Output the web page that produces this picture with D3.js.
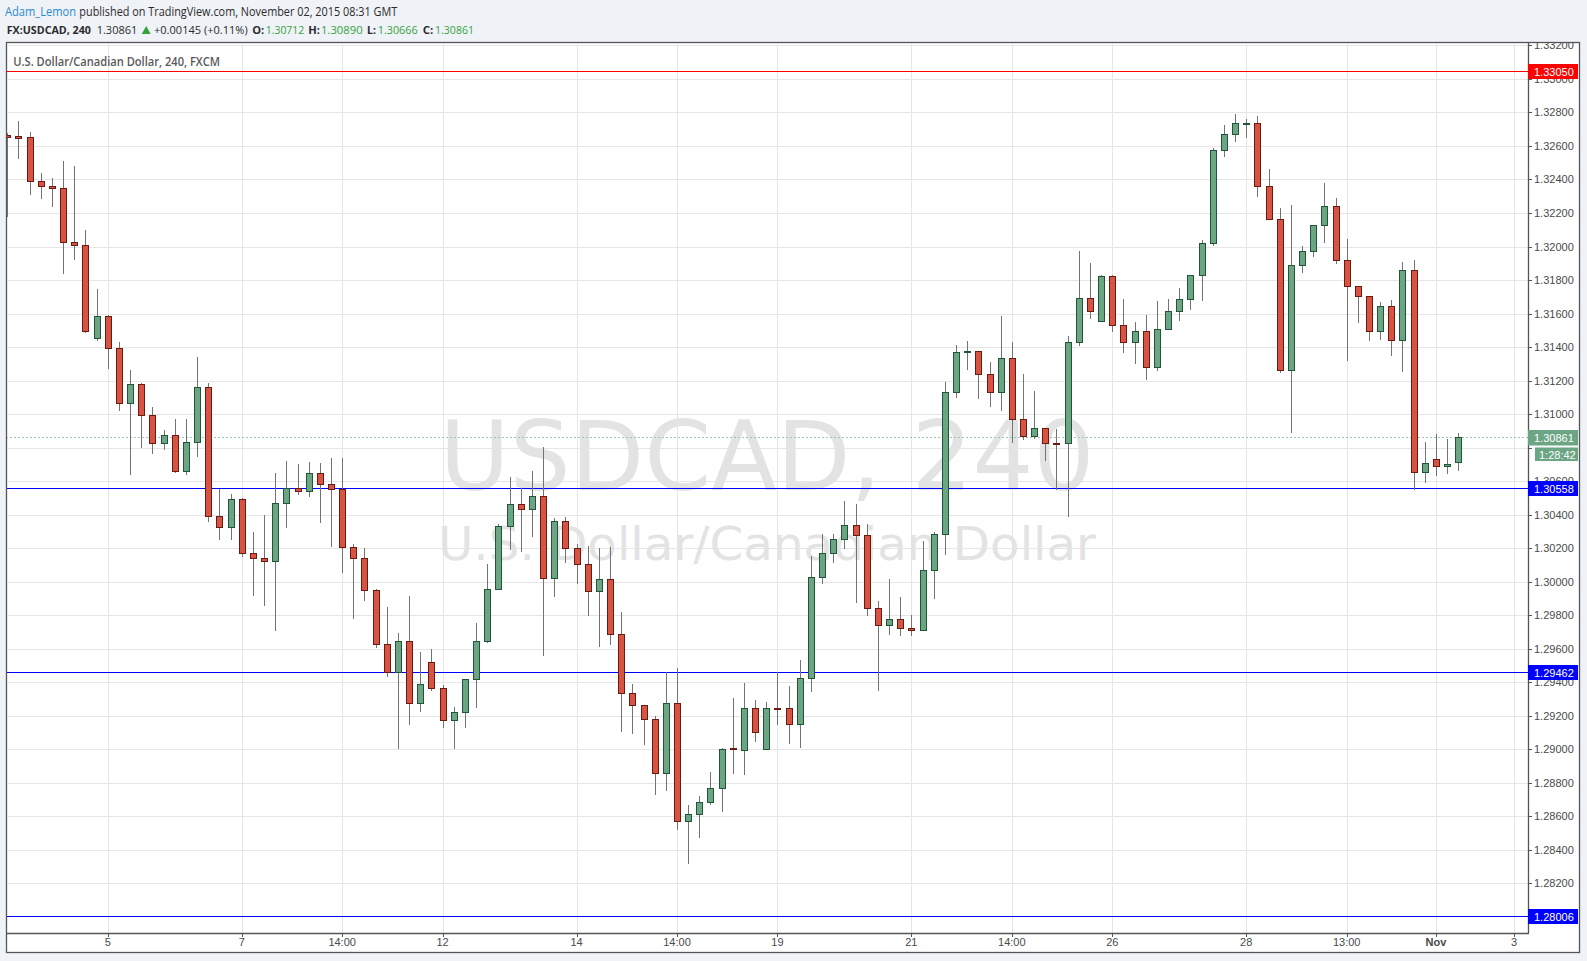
<!DOCTYPE html>
<html><head><meta charset="utf-8">
<script src="https://cdn.jsdelivr.net/npm/d3@7"></script>
<style>html,body{margin:0;padding:0;background:#eff2f7;} svg{display:block}</style>
</head><body><svg id="c" width="1587" height="961"></svg>
<script>
// ---- data (4h USD/CAD candles) ----
const open  = [1.32665,1.32659,1.32651,1.32388,1.32364,1.32352,1.32024,1.32012,1.31455,1.31588,
1.31397,1.31069,1.31182,1.30997,1.30830,1.30878,1.30663,1.30836,1.31164,1.30394,
1.30328,1.30496,1.30173,1.30143,1.30125,1.30472,1.30561,1.30543,1.30651,1.30585,
1.30555,1.30209,1.30143,1.29952,1.29630,1.29463,1.29648,1.29278,1.29522,1.29367,
1.29176,1.29224,1.29421,1.29648,1.29958,1.30334,1.30466,1.30436,1.30513,1.30024,
1.30364,1.30201,1.30108,1.29946,1.30018,1.29690,1.29337,1.29266,1.29182,1.28860,
1.29278,1.28573,1.28615,1.28687,1.28770,1.29005,1.28998,1.29249,1.29004,1.29249,
1.29249,1.29153,1.29428,1.30031,1.30174,1.30252,1.30341,1.30276,1.29846,1.29744,
1.29780,1.29726,1.29709,1.30067,1.30282,1.31132,1.31371,1.31377,1.31240,1.31132,
1.31335,1.30971,1.30870,1.30917,1.30830,1.30828,1.31431,1.31694,1.31556,1.31825,
1.31532,1.31431,1.31497,1.31282,1.31509,1.31616,1.31688,1.31833,1.32018,1.32573,
1.32669,1.32732,1.32734,1.32364,1.32167,1.31266,1.31887,1.31976,1.32131,1.32239,
1.31922,1.31767,1.31702,1.31493,1.31648,1.31445,1.31857,1.30657,1.30734,1.30693,
1.30712];
const high  = [1.32675,1.32748,1.32683,1.32438,1.32408,1.32510,1.32480,1.32098,1.31745,1.31590,
1.31429,1.31262,1.31188,1.31041,1.30904,1.30969,1.30969,1.31339,1.31188,1.30555,
1.30521,1.30500,1.30295,1.30396,1.30647,1.30718,1.30701,1.30712,1.30706,1.30736,
1.30736,1.30227,1.30203,1.29958,1.29847,1.29696,1.29914,1.29580,1.29600,1.29385,
1.29254,1.29421,1.29751,1.30108,1.30346,1.30625,1.30561,1.30663,1.30804,1.30382,
1.30388,1.30227,1.30211,1.30203,1.30205,1.29817,1.29391,1.29266,1.29200,1.29463,
1.29483,1.28667,1.28720,1.28864,1.29009,1.29305,1.29394,1.29293,1.29281,1.29462,
1.29376,1.29531,1.30152,1.30284,1.30282,1.30481,1.30463,1.30343,1.29882,1.30015,
1.29907,1.29804,1.30242,1.30294,1.31194,1.31415,1.31439,1.31377,1.31313,1.31588,
1.31433,1.31242,1.31140,1.30917,1.30913,1.31467,1.31976,1.31899,1.31833,1.31833,
1.31684,1.31550,1.31594,1.31676,1.31688,1.31755,1.31833,1.32038,1.32585,1.32724,
1.32790,1.32760,1.32778,1.32462,1.32229,1.32247,1.32002,1.32131,1.32378,1.32289,
1.32044,1.31767,1.31707,1.31668,1.31678,1.31910,1.31922,1.30832,1.30880,1.30852,
1.30890];
const low   = [1.32181,1.32529,1.32314,1.32291,1.32243,1.31843,1.31926,1.31487,1.31441,1.31276,
1.31025,1.30643,1.30804,1.30768,1.30792,1.30657,1.30643,1.30750,1.30362,1.30255,
1.30255,1.30153,1.29920,1.29861,1.29711,1.30326,1.30525,1.30513,1.30356,1.30213,
1.30058,1.29783,1.29891,1.29610,1.29437,1.29009,1.29150,1.29228,1.29355,1.29132,
1.29009,1.29132,1.29252,1.29640,1.29958,1.30195,1.30183,1.30273,1.29562,1.29914,
1.30117,1.29992,1.29801,1.29616,1.29628,1.29109,1.29097,1.29031,1.28732,1.28756,
1.28523,1.28320,1.28476,1.28675,1.28633,1.28859,1.28853,1.29050,1.29004,1.29151,
1.29038,1.29014,1.29348,1.29993,1.30118,1.30202,1.29880,1.29802,1.29354,1.29689,
1.29683,1.29683,1.29709,1.29904,1.30166,1.31101,1.31268,1.31095,1.31047,1.31023,
1.30832,1.30850,1.30858,1.30724,1.30553,1.30390,1.31415,1.31576,1.31556,1.31497,
1.31369,1.31304,1.31208,1.31262,1.31509,1.31560,1.31628,1.31682,1.32010,1.32541,
1.32631,1.32655,1.32303,1.32167,1.31252,1.30894,1.31849,1.31944,1.32028,1.31903,
1.31323,1.31550,1.31443,1.31449,1.31351,1.31258,1.30555,1.30595,1.30637,1.30649,
1.30666];
const close = [1.32655,1.32649,1.32388,1.32362,1.32350,1.32024,1.32012,1.31493,1.31588,1.31397,
1.31069,1.31182,1.30997,1.30830,1.30878,1.30663,1.30836,1.31164,1.30394,1.30328,
1.30496,1.30173,1.30143,1.30125,1.30472,1.30561,1.30543,1.30651,1.30585,1.30555,
1.30209,1.30143,1.29952,1.29630,1.29463,1.29648,1.29278,1.29391,1.29367,1.29176,
1.29224,1.29421,1.29648,1.29958,1.30334,1.30466,1.30436,1.30513,1.30024,1.30364,
1.30201,1.30108,1.29946,1.30018,1.29690,1.29337,1.29266,1.29182,1.28860,1.29278,
1.28573,1.28615,1.28687,1.28770,1.29003,1.29000,1.29249,1.29106,1.29249,1.29245,
1.29153,1.29428,1.30031,1.30174,1.30252,1.30341,1.30276,1.29846,1.29744,1.29780,
1.29726,1.29709,1.30067,1.30282,1.31132,1.31371,1.31375,1.31240,1.31132,1.31335,
1.30971,1.30870,1.30917,1.30828,1.30826,1.31431,1.31694,1.31616,1.31825,1.31532,
1.31431,1.31497,1.31282,1.31509,1.31616,1.31688,1.31833,1.32018,1.32573,1.32669,
1.32734,1.32736,1.32364,1.32167,1.31266,1.31887,1.31976,1.32131,1.32239,1.31922,
1.31767,1.31702,1.31493,1.31648,1.31445,1.31857,1.30657,1.30710,1.30693,1.30705,
1.30861];
const xTickIndex  = [9,21,30,39,51,60,69,81,90,99,111,120,128,135];
const xTickLabels = ["5","7","14:00","12","14","14:00","19","21","14:00","26","28","13:00","Nov","3"];
const yTicks = [1.282,1.284,1.286,1.288,1.290,1.292,1.294,1.296,1.298,1.300,1.302,1.304,1.306,
                1.308,1.310,1.312,1.314,1.316,1.318,1.320,1.322,1.324,1.326,1.328,1.330,1.332];
const hiddenYTicks = [1.308];
const levelPrices = [1.33050, 1.30558, 1.29462, 1.28006];
const levelKinds  = ["resistance","support","support","support"];
const lastPrice = 1.30861;
const countdown = "1:28:42";

// ---- layout ----
const W = 1587, H = 961;
const PL = 6, PT = 42, PR = 1528, PB = 933, FR = 1580, FB = 953;
const col = {bg:"#eff2f7", grid:"#e6e6e6", frame:"#555555", upFill:"#6ba583", upLine:"#225437",
  dnFill:"#d75442", dnLine:"#6b1a12", wick:"#737373", axisText:"#4a4a4a",
  resistance:"#ff0000", support:"#0000ff", green:"#35a23b"};

const svg = d3.select("#c");
svg.append("rect").attr("width",W).attr("height",H).attr("fill",col.bg);
svg.append("rect").attr("x",PL+0.5).attr("y",PT+0.5).attr("width",FR-PL-1).attr("height",FB-PT-1)
  .attr("fill","#fff").attr("stroke",col.frame).attr("stroke-width",1.3);

const x = d3.scaleLinear().domain([0,130]).range([7.3,1458.3]);
const y = d3.scaleLinear().domain([1.28,1.332]).range([916.9,45.4]);
const crisp = v => Math.round(v)+0.5;

const defs = svg.append("defs");
defs.append("clipPath").attr("id","plotClip").append("rect")
  .attr("x",PL+1).attr("y",PT+1).attr("width",PR-PL-1).attr("height",PB-PT-1);
defs.append("clipPath").attr("id","axisClip").append("rect")
  .attr("x",PR).attr("y",PT+1).attr("width",FR-PR-1).attr("height",PB-PT);

const plot = svg.append("g").attr("clip-path","url(#plotClip)");
// grid
plot.append("g").selectAll("line").data(yTicks).join("line")
  .attr("x1",PL).attr("x2",PR).attr("y1",d=>crisp(y(d))).attr("y2",d=>crisp(y(d)))
  .attr("stroke",col.grid).attr("stroke-width",1);
plot.append("g").selectAll("line").data(xTickIndex).join("line")
  .attr("x1",d=>crisp(x(d))).attr("x2",d=>crisp(x(d))).attr("y1",PT).attr("y2",PB)
  .attr("stroke",col.grid).attr("stroke-width",1);

// watermark
const cxm = (PL+PR)/2;
plot.append("text").attr("x",cxm).attr("y",490).attr("text-anchor","middle")
  .attr("font-family","DejaVu Sans, sans-serif").attr("font-size",96).attr("fill","#e3e3e3")
  .attr("textLength",655).attr("lengthAdjust","spacingAndGlyphs").text("USDCAD, 240");
plot.append("text").attr("x",cxm).attr("y",560).attr("text-anchor","middle")
  .attr("font-family","DejaVu Sans, sans-serif").attr("font-size",47).attr("fill","#e3e3e3")
  .attr("textLength",658).attr("lengthAdjust","spacingAndGlyphs").text("U.S. Dollar/Canadian Dollar");

// level lines
plot.append("g").selectAll("line").data(levelPrices).join("line")
  .attr("x1",PL).attr("x2",PR).attr("y1",d=>crisp(y(d))).attr("y2",d=>crisp(y(d)))
  .attr("stroke",(d,i)=>col[levelKinds[i]]).attr("stroke-width",1);
plot.append("line").attr("x1",PL).attr("x2",PR)
  .attr("y1",crisp(y(lastPrice))).attr("y2",crisp(y(lastPrice)))
  .attr("stroke","#9cc6ae").attr("stroke-width",1).attr("stroke-dasharray","2,2");

// candles
const idx = open.map((d,i)=>i);
const cg = plot.append("g");
cg.selectAll("line").data(idx).join("line")
  .attr("x1",i=>Math.round(x(i))+0.5).attr("x2",i=>Math.round(x(i))+0.5)
  .attr("y1",i=>Math.round(y(high[i]))).attr("y2",i=>Math.round(y(low[i]))+1)
  .attr("stroke",col.wick).attr("stroke-width",1);
cg.selectAll("rect").data(idx).join("rect")
  .attr("x",i=>Math.round(x(i))-2.5).attr("width",6)
  .attr("y",i=>crisp(y(Math.max(open[i],close[i]))))
  .attr("height",i=>Math.max(1, crisp(y(Math.min(open[i],close[i]))) - crisp(y(Math.max(open[i],close[i])))))
  .attr("fill",i=>close[i]>=open[i]?col.upFill:col.dnFill)
  .attr("stroke",i=>close[i]>=open[i]?col.upLine:col.dnLine).attr("stroke-width",1);

// axis lines
svg.append("line").attr("x1",crisp(PR)).attr("x2",crisp(PR)).attr("y1",PT).attr("y2",PB+0.5)
  .attr("stroke",col.frame).attr("stroke-width",1.3);
svg.append("line").attr("x1",PL).attr("x2",PR+1).attr("y1",crisp(PB)).attr("y2",crisp(PB))
  .attr("stroke",col.frame).attr("stroke-width",1.3);

// y axis
const ya = svg.append("g").attr("clip-path","url(#axisClip)");
ya.selectAll("line").data(yTicks).join("line")
  .attr("x1",PR).attr("x2",PR+4).attr("y1",d=>crisp(y(d))).attr("y2",d=>crisp(y(d)))
  .attr("stroke",col.frame);
ya.selectAll("text").data(yTicks.filter(d=>!hiddenYTicks.includes(d))).join("text")
  .attr("x",PR+6).attr("y",d=>y(d)+4)
  .attr("font-family","Liberation Sans, Arial, sans-serif").attr("font-size",11)
  .attr("fill",col.axisText).text(d=>d.toFixed(5));

// level boxes
const lb = svg.append("g").selectAll("g").data(levelPrices).join("g");
lb.append("rect").attr("x",PR).attr("width",50).attr("y",d=>Math.round(y(d))-7).attr("height",15)
  .attr("fill",(d,i)=>col[levelKinds[i]]);
lb.append("text").attr("x",PR+6).attr("y",d=>Math.round(y(d))+4.5)
  .attr("font-family","Liberation Sans, Arial, sans-serif").attr("font-size",11)
  .attr("fill","#fff").text(d=>d.toFixed(5));
// last price box + countdown
svg.append("rect").attr("x",PR).attr("width",50).attr("y",Math.round(y(lastPrice))-7).attr("height",15.5)
  .attr("fill",col.upFill);
svg.append("text").attr("x",PR+6).attr("y",Math.round(y(lastPrice))+4.5)
  .attr("font-family","Liberation Sans, Arial, sans-serif").attr("font-size",11)
  .attr("fill","#fff").text(lastPrice.toFixed(5));
svg.append("rect").attr("x",PR+7).attr("width",43).attr("y",Math.round(y(lastPrice))+10.5).attr("height",13.5)
  .attr("fill",col.upFill);
svg.append("text").attr("x",PR+11).attr("y",Math.round(y(lastPrice))+21.5)
  .attr("font-family","Liberation Sans, Arial, sans-serif").attr("font-size",11)
  .attr("fill","#fff").text(countdown);

// x axis
const xa = svg.append("g");
xa.selectAll("line").data(xTickIndex).join("line")
  .attr("x1",d=>crisp(x(d))).attr("x2",d=>crisp(x(d))).attr("y1",PB).attr("y2",PB+4)
  .attr("stroke",col.frame);
xa.selectAll("text").data(xTickIndex).join("text")
  .attr("x",d=>x(d)).attr("y",946).attr("text-anchor","middle")
  .attr("font-family","Liberation Sans, Arial, sans-serif").attr("font-size",11)
  .attr("font-weight",(d,i)=>xTickLabels[i]==="Nov"?"bold":"normal")
  .attr("fill",col.axisText).text((d,i)=>xTickLabels[i]);

// header
const hf = "Open Sans, sans-serif";
function t(xp, yp, str, len, opts={}) {
  svg.append("text").attr("x",xp).attr("y",yp).attr("font-family",hf).attr("font-size",opts.size||11)
    .attr("font-weight",opts.weight||"normal").attr("fill",opts.fill||"#2b2b2b")
    .attr("textLength",len).attr("lengthAdjust","spacingAndGlyphs").text(str);
}
t(5,16,"Adam_Lemon",71,{fill:"#2a8bcc",size:12});
t(79.3,16,"published on TradingView.com, November 02, 2015 08:31 GMT",318,{size:12});
t(6.7,34.3,"FX:USDCAD, 240",84.3,{weight:"bold"});
t(96.7,34.3,"1.30861",40.6);
svg.append("path").attr("d","M141.7,34L150.7,34L146.2,26Z").attr("fill",col.green);
t(154,34.3,"+0.00145 (+0.11%)",93.7,{size:10.8});
t(252.3,34.3,"O:",12,{weight:"bold"});
t(265.7,34.3,"1.30712",38.6,{fill:col.green});
t(308.3,34.3,"H:",11.7,{weight:"bold"});
t(321,34.3,"1.30890",41.7,{fill:col.green});
t(367,34.3,"L:",9,{weight:"bold"});
t(377.7,34.3,"1.30666",40,{fill:col.green});
t(422.7,34.3,"C:",10.6,{weight:"bold"});
t(435,34.3,"1.30861",39,{fill:col.green});
t(13.3,65.7,"U.S. Dollar/Canadian Dollar, 240, FXCM",206.7,{weight:"600",fill:"#5a5a5a",size:12});
</script></body></html>
